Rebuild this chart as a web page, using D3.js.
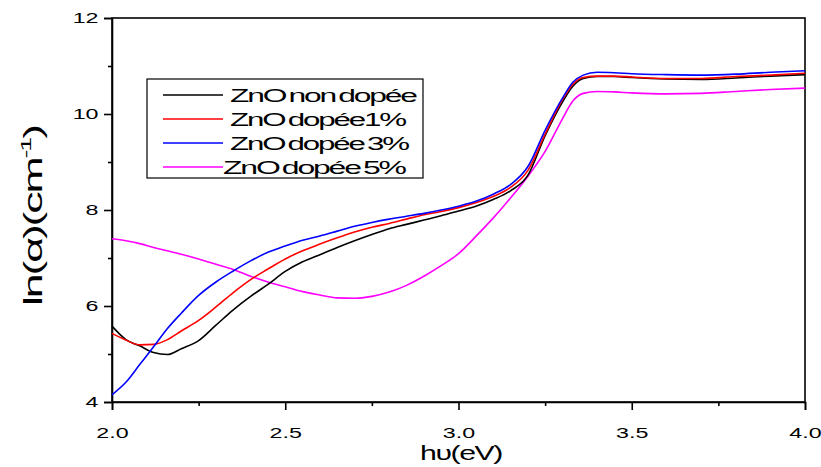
<!DOCTYPE html>
<html><head><meta charset="utf-8">
<script src="https://cdn.jsdelivr.net/npm/d3@7"></script>
<style>body{margin:0;background:#fff;} svg{display:block;}</style>
</head><body>
<svg id="c" width="821" height="467"></svg>
<script>
const energy = [2.0,2.04,2.08,2.12,2.16,2.2,2.25,2.3,2.35,2.4,2.45,2.5,2.55,2.6,2.65,2.7,2.75,2.8,2.85,2.9,2.95,3.0,3.05,3.1,3.15,3.2,3.25,3.3,3.33,3.36,3.4,3.45,3.5,3.6,3.7,3.8,3.9,4.0];
const nonDopee = [5.58,5.30,5.17,5.03,4.99,5.11,5.28,5.60,5.92,6.20,6.45,6.72,6.92,7.07,7.22,7.36,7.49,7.61,7.70,7.79,7.88,7.98,8.08,8.22,8.40,8.72,9.55,10.25,10.58,10.74,10.78,10.78,10.76,10.73,10.72,10.75,10.79,10.82];
const dopee1 = [5.43,5.29,5.19,5.20,5.30,5.48,5.70,5.98,6.28,6.55,6.77,6.98,7.15,7.29,7.42,7.54,7.64,7.72,7.81,7.90,7.97,8.05,8.15,8.28,8.47,8.82,9.58,10.30,10.62,10.76,10.79,10.79,10.77,10.74,10.74,10.78,10.81,10.85];
const dopee3 = [4.15,4.41,4.78,5.15,5.53,5.85,6.22,6.50,6.73,6.94,7.12,7.25,7.37,7.46,7.56,7.66,7.74,7.81,7.87,7.93,8.00,8.08,8.18,8.33,8.53,8.90,9.66,10.33,10.66,10.81,10.87,10.86,10.84,10.82,10.81,10.83,10.87,10.90];
const dopee5 = [7.40,7.36,7.30,7.22,7.15,7.08,6.98,6.87,6.76,6.62,6.50,6.40,6.30,6.23,6.17,6.16,6.20,6.29,6.43,6.62,6.84,7.09,7.45,7.83,8.25,8.70,9.22,9.90,10.27,10.43,10.47,10.46,10.44,10.42,10.43,10.47,10.51,10.54];
const seriesNames = ["ZnO non dopée","ZnO dopée1%","ZnO dopée 3%","ZnO dopée 5%"];
const seriesColors = ["#000000","#ff0000","#0000ff","#ff00ff"];
const xTicks = [2.0,2.5,3.0,3.5,4.0];
const xMinor = [2.25,2.75,3.25,3.75];
const yTicks = [4,6,8,10,12];
const yMinor = [5,7,9,11];

const svg = d3.select("#c");
const L=112, R=805, T=18, B=402;
const x = d3.scaleLinear().domain([2,4]).range([L,R]);
const y = d3.scaleLinear().domain([4,12]).range([B,T]);
const font = "'Liberation Sans', Arial, sans-serif";

// stretch a text horizontally (around its start) to a target width
function fitWidth(sel, ax, ay, target){
  const w = sel.node().getComputedTextLength();
  const s = target / w;
  sel.attr("x",0).attr("y",0)
     .attr("transform",`translate(${ax},${ay}) scale(${s},1)`);
}

// frame
svg.append("rect").attr("x",L).attr("y",T).attr("width",R-L).attr("height",B-T)
  .attr("fill","none").attr("stroke","#000").attr("stroke-width",1.6);

// axes
svg.append("g").attr("transform",`translate(0,${B})`)
  .call(d3.axisBottom(x).tickValues(xTicks).tickFormat(d3.format(".1f")).tickSize(8).tickPadding(17));
svg.append("g").attr("transform",`translate(0,${B})`)
  .call(d3.axisBottom(x).tickValues(xMinor).tickFormat("").tickSize(4))
  .call(g=>g.select(".domain").remove());
svg.append("g").attr("transform",`translate(${L},0)`)
  .call(d3.axisLeft(y).tickValues(yTicks).tickFormat(d3.format("d")).tickSize(8).tickPadding(1));
svg.append("g").attr("transform",`translate(${L},0)`)
  .call(d3.axisLeft(y).tickValues(yMinor).tickFormat("").tickSize(4))
  .call(g=>g.select(".domain").remove());
svg.selectAll(".tick line").attr("stroke","#000").attr("stroke-width",1.6);
svg.selectAll(".domain").attr("stroke","#000").attr("stroke-width",1.6);
svg.selectAll(".tick text").attr("font-family",font).attr("font-size",15.5).attr("fill","#000")
  .attr("transform","scale(1.5,1)");

// curves
const data = [nonDopee,dopee1,dopee3,dopee5];
const line = d3.line().x((d,i)=>x(energy[i])).y(d=>y(d)).curve(d3.curveMonotoneX);
const order = [3,0,1,2];
order.forEach(k=>{
  svg.append("path").datum(data[k]).attr("d",line).attr("fill","none")
    .attr("stroke",seriesColors[k]).attr("stroke-width",1.6);
});

// legend
const legendWidths = [186,175,178,182];
const lg = svg.append("g");
lg.append("rect").attr("x",147).attr("y",79).attr("width",276).attr("height",99)
  .attr("fill","#fff").attr("stroke","#000").attr("stroke-width",1.2);
seriesNames.forEach((n,i)=>{
  const yy = 95 + i*24;
  lg.append("line").attr("x1",163).attr("x2",223).attr("y1",yy).attr("y2",yy)
    .attr("stroke",seriesColors[i]).attr("stroke-width",1.6);
  const t = lg.append("text").text(n)
    .attr("font-family",font).attr("font-size",19).attr("letter-spacing","-1.3px").attr("word-spacing","-2px")
    .attr("fill","#000");
  fitWidth(t, i===3?223:230, yy+7, legendWidths[i]);
});

// axis titles
const xl = svg.append("text").attr("font-family",font).attr("font-size",21).attr("letter-spacing","-1px").text("hυ(eV)");
fitWidth(xl, 420, 460, 82);
const yl = svg.append("text").attr("font-family",font).attr("font-size",25).attr("letter-spacing","-1.2px");
yl.append("tspan").text("ln(α)(cm");
yl.append("tspan").attr("font-size",15).attr("dy",-11).text("-1");
yl.append("tspan").attr("dy",11).text(")");
{
  const w = yl.node().getComputedTextLength();
  const s = 180 / w;
  yl.attr("transform",`translate(42,306) rotate(-90) scale(${s},1)`);
}
</script>
</body></html>
